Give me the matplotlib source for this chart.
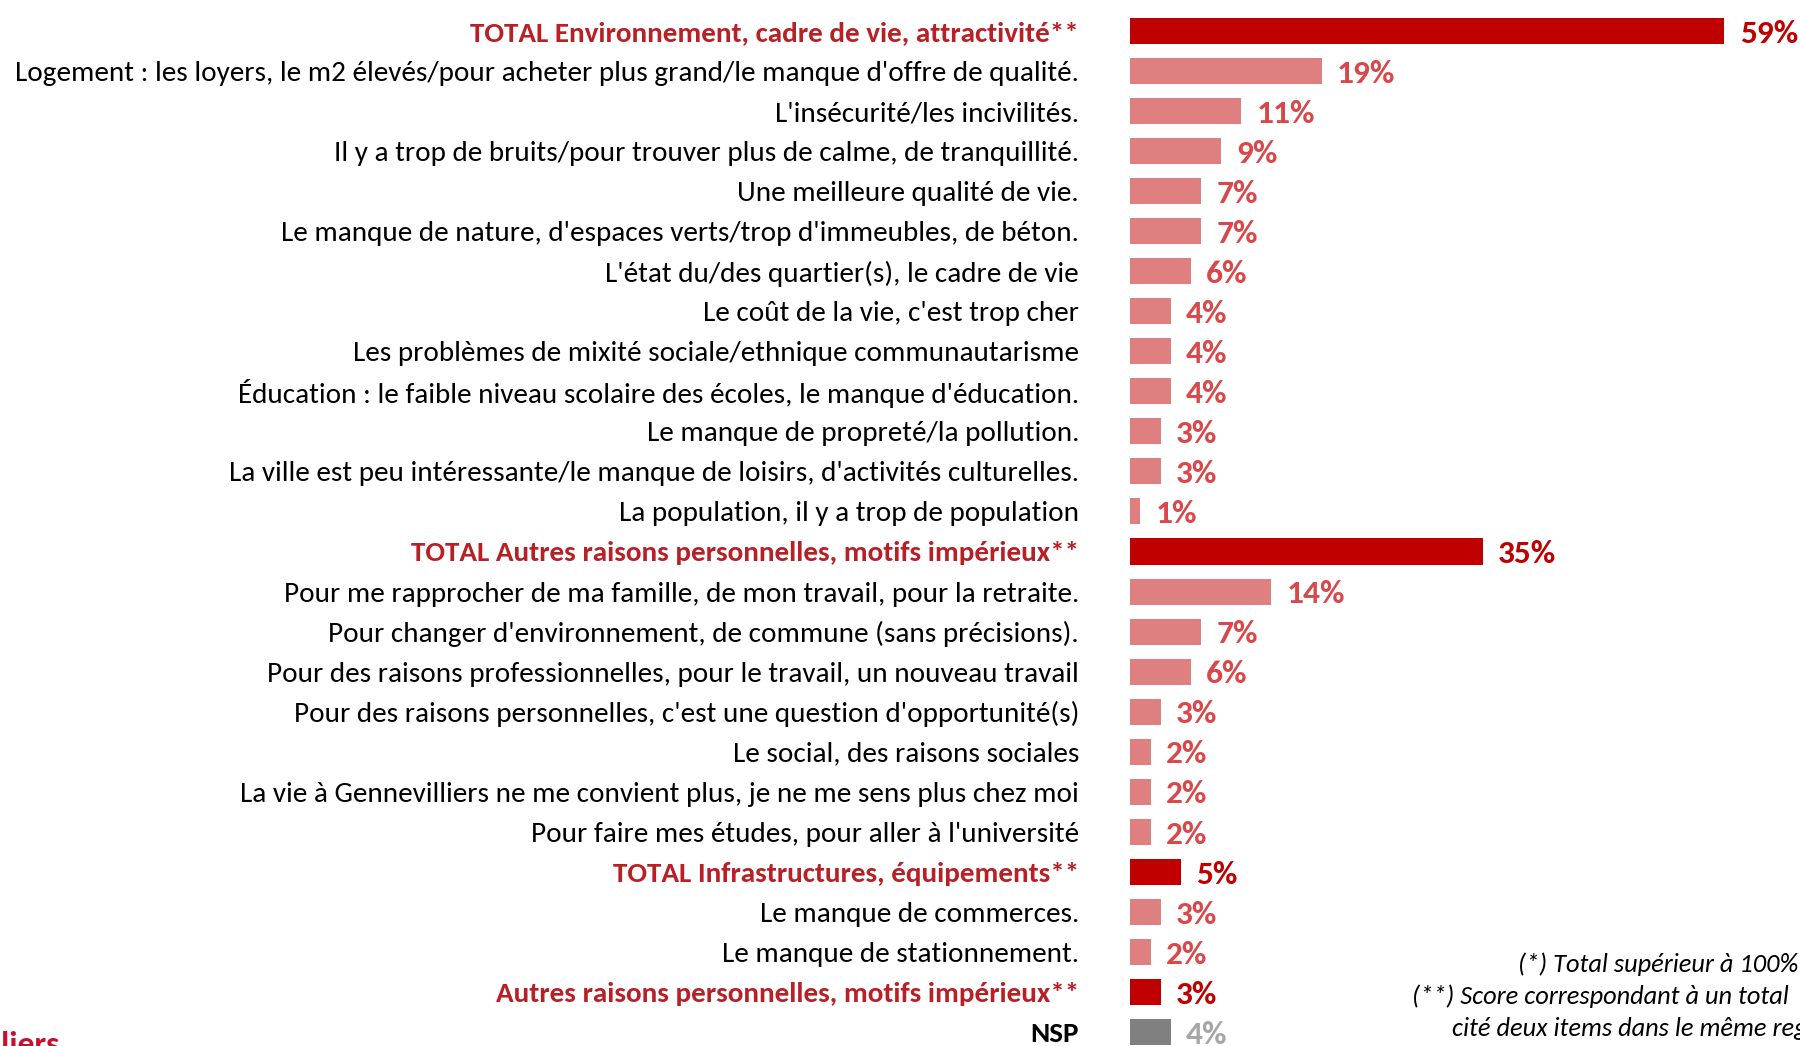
import matplotlib.pyplot as plt
import numpy as np

# Raisons de départ (réponses, en %)
labels = [
    "TOTAL Environnement, cadre de vie, attractivité**",
    "Logement : les loyers, le m2 élevés/pour acheter plus grand/le manque d'offre de qualité.",
    "L'insécurité/les incivilités.",
    "Il y a trop de bruits/pour trouver plus de calme, de tranquillité.",
    "Une meilleure qualité de vie.",
    "Le manque de nature, d'espaces verts/trop d'immeubles, de béton.",
    "L'état du/des quartier(s), le cadre de vie",
    "Le coût de la vie, c'est trop cher",
    "Les problèmes de mixité sociale/ethnique communautarisme",
    "Éducation : le faible niveau scolaire des écoles, le manque d'éducation.",
    "Le manque de propreté/la pollution.",
    "La ville est peu intéressante/le manque de loisirs, d'activités culturelles.",
    "La population, il y a trop de population",
    "TOTAL Autres raisons personnelles, motifs impérieux**",
    "Pour me rapprocher de ma famille, de mon travail, pour la retraite.",
    "Pour changer d'environnement, de commune (sans précisions).",
    "Pour des raisons professionnelles, pour le travail, un nouveau travail",
    "Pour des raisons personnelles, c'est une question d'opportunité(s)",
    "Le social, des raisons sociales",
    "La vie à Gennevilliers ne me convient plus, je ne me sens plus chez moi",
    "Pour faire mes études, pour aller à l'université",
    "TOTAL Infrastructures, équipements**",
    "Le manque de commerces.",
    "Le manque de stationnement.",
    "Autres raisons personnelles, motifs impérieux**",
    "NSP",
]
values = [59, 19, 11, 9, 7, 7, 6, 4, 4, 4, 3, 3, 1, 35, 14, 7, 6, 3, 2, 2, 2, 5, 3, 2, 3, 4]
# kind: 't' = total, 'd' = detail, 'n' = NSP
kinds = ['t'] + ['d'] * 12 + ['t'] + ['d'] * 7 + ['t', 'd', 'd', 't', 'n']

bar_col = {'t': '#C00000', 'd': '#DF8080', 'n': '#808080'}
val_col = {'t': '#C00000', 'd': '#D9474A', 'n': '#A6A6A6'}
lab_col = {'t': '#B82025', 'd': '#000000', 'n': '#000000'}

plt.rcParams['font.family'] = ['Carlito', 'Lato', 'DejaVu Sans']

fig = plt.figure(figsize=(18, 10.46), dpi=100)
ax = fig.add_axes([0.628, -0.0057, 0.372, 0.9952])

y = np.arange(len(values))
ax.barh(y, values, height=0.65, color=[bar_col[k] for k in kinds])
ax.set_xlim(0, 66.5)
ax.set_ylim(len(values) - 0.5, -0.5)

for yi, v, k in zip(y, values, kinds):
    ax.annotate(f"{v}%", (v, yi), xytext=(11, -2), textcoords='offset points',
                va='center', ha='left', fontsize=24, fontweight='bold', color=val_col[k])

ax.set_yticks(y)
ax.set_yticklabels(labels, fontsize=21)
for tl, k in zip(ax.get_yticklabels(), kinds):
    tl.set_color(lab_col[k])
    if k != 'd':
        tl.set_fontweight('bold')
ax.tick_params(axis='y', length=0, pad=37)
ax.set_xticks([])
for s in ax.spines.values():
    s.set_visible(False)

# notes (coupées au bord droit, comme sur l'original)
fig.text(0.8435, 0.0784, "(*) Total supérieur à 100%", fontsize=19, style='italic', va='center')
fig.text(0.7845, 0.0478, "(**) Score correspondant à un total", fontsize=19, style='italic', va='center')
fig.text(0.8067, 0.0163, "cité deux items dans le même regroupement", fontsize=19, style='italic', va='center')

# logo (fragment)
fig.text(-0.004, -0.008, "lliers", fontsize=24, fontweight='bold', color='#C8102E')

fig.savefig('out.png', dpi=100)
